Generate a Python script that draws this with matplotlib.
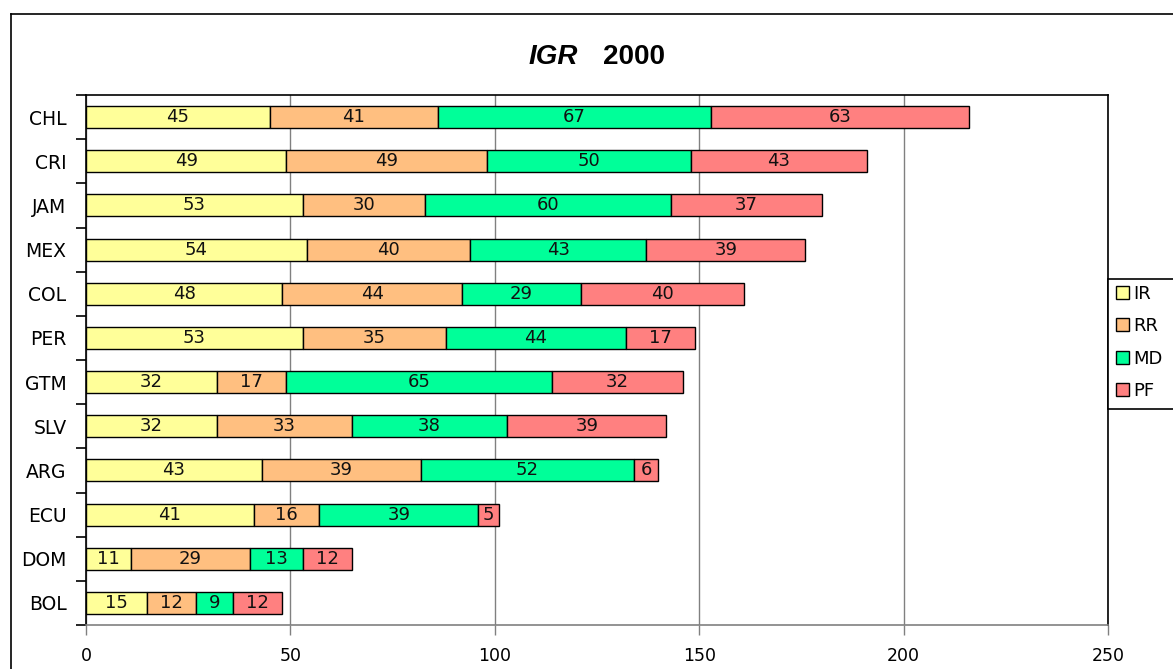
import matplotlib
matplotlib.use("Agg")
import matplotlib.pyplot as plt
from matplotlib.lines import Line2D
from matplotlib.patches import Patch, Rectangle

countries = ["CHL", "CRI", "JAM", "MEX", "COL", "PER", "GTM", "SLV", "ARG", "ECU", "DOM", "BOL"]
series_names = ["IR", "RR", "MD", "PF"]
IR = [45, 49, 53, 54, 48, 53, 32, 32, 43, 41, 11, 15]
RR = [41, 49, 30, 40, 44, 35, 17, 33, 39, 16, 29, 12]
MD = [67, 50, 60, 43, 29, 44, 65, 38, 52, 39, 13, 9]
PF = [63, 43, 37, 39, 40, 17, 32, 39, 6, 5, 12, 12]
colors = ["#FFFF99", "#FFBF80", "#00FF99", "#FF8080"]
xticks = [0, 50, 100, 150, 200, 250]

W, H = 1173, 669
fig = plt.figure(figsize=(W / 100, H / 100), dpi=100)
ax = fig.add_axes([86 / W, 1 - 625 / H, (1108 - 86) / W, (625 - 95) / H])

n = len(countries)
ypos = [n - 1 - i for i in range(n)]
left = [0] * n
for vals, col in zip([IR, RR, MD, PF], colors):
    bars = ax.barh(ypos, vals, left=left, height=0.5, color=col,
                   edgecolor="black", linewidth=1.0, zorder=3)
    ax.bar_label(bars, labels=[str(v) for v in vals], label_type="center",
                 fontsize=13, color="#111111", zorder=4)
    left = [a + b for a, b in zip(left, vals)]

ax.set_xlim(0, 250)
ax.set_ylim(-0.5, n - 0.5)
ax.set_xticks(xticks)
ax.set_xticklabels([str(t) for t in xticks], fontsize=12.5)
ax.set_yticks(ypos)
ax.set_yticklabels(countries, fontsize=13.5)
ax.set_yticks([i - 0.5 for i in range(n + 1)], minor=True)
ax.tick_params(axis="y", which="major", length=0, pad=14)
ax.tick_params(axis="y", which="minor", length=7, width=1.2, color="black", direction="out")
ax.tick_params(axis="x", which="major", length=7, width=1, color="#808080", direction="out", pad=9)
ax.grid(axis="x", color="#808080", linewidth=1, zorder=0)
ax.set_axisbelow(True)
for s in ["top", "left", "right"]:
    ax.spines[s].set_color("black")
    ax.spines[s].set_linewidth(1.2)
ax.spines["bottom"].set_color("#808080")
ax.spines["bottom"].set_linewidth(1.2)

# Title
fig.text(578 / W, 1 - 57 / H, "IGR", fontsize=20, fontweight="bold", style="italic",
         family="Liberation Sans", ha="right", va="center")
fig.text(603 / W, 1 - 57 / H, "2000", fontsize=20, fontweight="bold",
         family="Liberation Sans", ha="left", va="center")

# Legend frame (extends past the right edge)
fig.add_artist(Rectangle((1108 / W, 1 - 409 / H), 80 / W, 130 / H, transform=fig.transFigure,
                         facecolor="white", edgecolor="black", linewidth=1.2, zorder=5))
handles = [Patch(facecolor=c, edgecolor="black", linewidth=1) for c in colors]
leg = fig.legend(handles, series_names, loc="upper left",
                 bbox_to_anchor=(1112 / W, 1 - 281 / H), borderaxespad=0,
                 fontsize=13, frameon=False,
                 handlelength=0.75, handleheight=0.75, handletextpad=0.2,
                 labelspacing=0.8, borderpad=0.2)
leg.set_zorder(6)

# Outer frame
fig.add_artist(Line2D([11 / W, 11 / W], [0, 1 - 14 / H], transform=fig.transFigure,
                      color="black", linewidth=1.2))
fig.add_artist(Line2D([11 / W, 1], [1 - 14 / H, 1 - 14 / H], transform=fig.transFigure,
                      color="black", linewidth=1.2))

fig.savefig("out.png", dpi=100)
